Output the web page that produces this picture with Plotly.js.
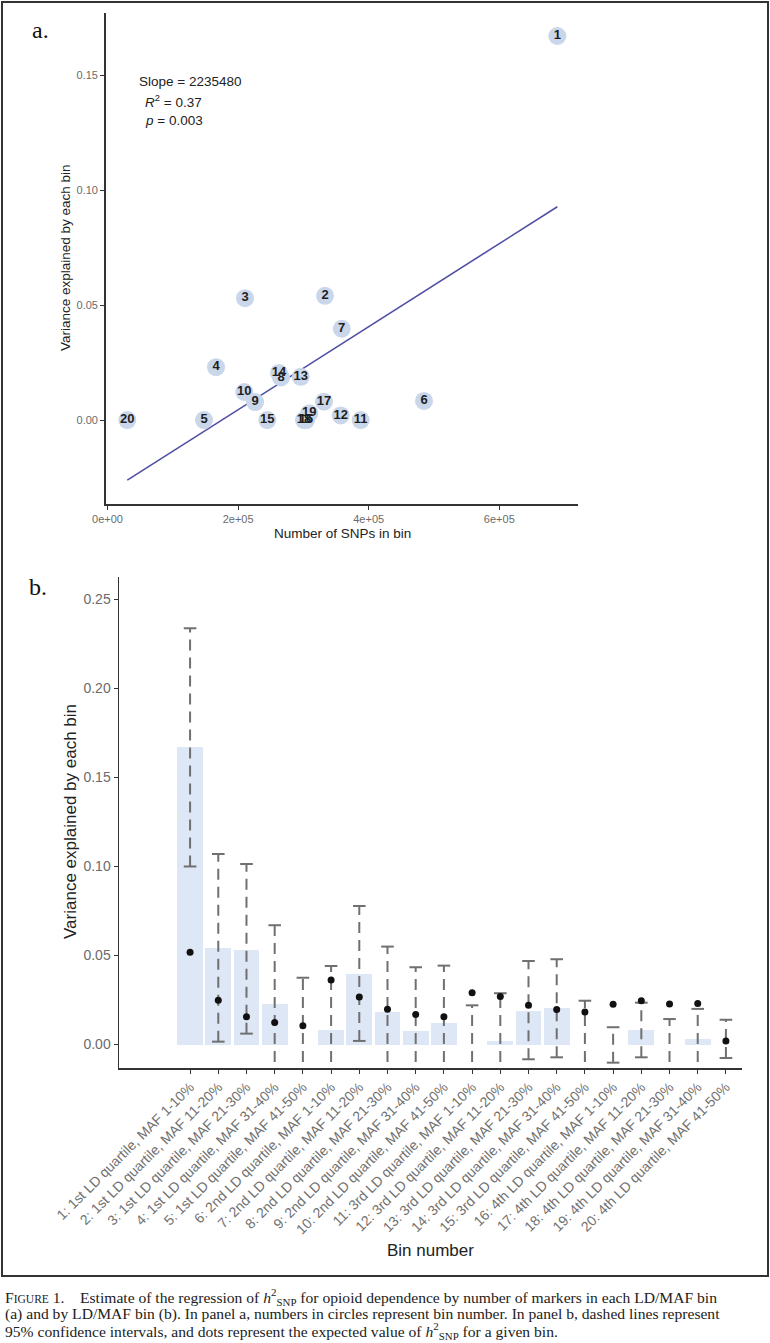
<!DOCTYPE html>
<html>
<head>
<meta charset="utf-8">
<script src="https://cdn.plot.ly/plotly-3.0.1.min.js"></script>
<style>
  html, body { margin: 0; padding: 0; background: #fff; }
  #fig { width: 770px; height: 1343px; }
</style>
</head>
<body>
<div id="fig"></div>
<script>
// bins 1..20 (LD quartile x MAF class)
const binNumbers = [1, 2, 3, 4, 5, 6, 7, 8, 9, 10, 11, 12, 13, 14, 15, 16, 17, 18, 19, 20];
const binLabels = [
  "1: 1st LD quartile, MAF 1-10%", "2: 1st LD quartile, MAF 11-20%", "3: 1st LD quartile, MAF 21-30%",
  "4: 1st LD quartile, MAF 31-40%", "5: 1st LD quartile, MAF 41-50%", "6: 2nd LD quartile, MAF 1-10%",
  "7: 2nd LD quartile, MAF 11-20%", "8: 2nd LD quartile, MAF 21-30%", "9: 2nd LD quartile, MAF 31-40%",
  "10: 2nd LD quartile, MAF 41-50%", "11: 3rd LD quartile, MAF 1-10%", "12: 3rd LD quartile, MAF 11-20%",
  "13: 3rd LD quartile, MAF 21-30%", "14: 3rd LD quartile, MAF 31-40%", "15: 3rd LD quartile, MAF 41-50%",
  "16: 4th LD quartile, MAF 1-10%", "17: 4th LD quartile, MAF 11-20%", "18: 4th LD quartile, MAF 21-30%",
  "19: 4th LD quartile, MAF 31-40%", "20: 4th LD quartile, MAF 41-50%"
];

// panel a: SNP count per bin vs variance explained
const snpsInBin = [688800, 333100, 210600, 166200, 147800, 484700, 358700, 265700, 226000, 209500,
                   387700, 357100, 295900, 262600, 244700, 304000, 331500, 300900, 309000, 30300];
const varianceExplained = [0.167, 0.054, 0.053, 0.023, 0.000, 0.0083, 0.0397, 0.0185, 0.0078, 0.0122,
                           0.000, 0.002, 0.0188, 0.0205, 0.000, 0.000, 0.008, 0.000, 0.003, 0.000];

// panel b: expected h2 and 95% CI
const expectedH2 = [0.0518, 0.0248, 0.0156, 0.0123, 0.0106, 0.0362, 0.0267, 0.0198, 0.0168, 0.0156,
                    0.0291, 0.0269, 0.0220, 0.0196, 0.0183, 0.0226, 0.0246, 0.0228, 0.0231, 0.0020];
const ciLower = [0.1000, 0.0016, 0.0061, -0.030, -0.030, -0.030, 0.0020, -0.030, -0.030, -0.030,
                 -0.030, -0.030, -0.0083, -0.0072, -0.030, -0.0102, -0.0072, -0.030, -0.030, -0.0076];
const ciUpper = [0.2338, 0.1070, 0.1014, 0.0670, 0.0375, 0.0441, 0.0778, 0.0550, 0.0434, 0.0443,
                 0.0220, 0.0288, 0.0469, 0.0479, 0.0246, 0.0097, 0.0235, 0.0143, 0.0200, 0.0139];

const W = 770, H = 1343;
const px = x => x / W;
const py = y => 1 - y / H;
const sans = "Liberation Sans, Arial, sans-serif";
const serif = "Liberation Serif, Times New Roman, serif";

// least squares fit for panel a
function fitLine(xs, ys) {
  const n = xs.length;
  const mx = xs.reduce((a, b) => a + b, 0) / n;
  const my = ys.reduce((a, b) => a + b, 0) / n;
  let sxy = 0, sxx = 0;
  xs.forEach((x, i) => { sxy += (x - mx) * (ys[i] - my); sxx += (x - mx) * (x - mx); });
  const slope = sxy / sxx;
  return { slope, intercept: my - slope * mx };
}
const fit = fitLine(snpsInBin, varianceExplained);
const xMin = Math.min(...snpsInBin), xMax = Math.max(...snpsInBin);

const traces = [];

traces.push({
  type: "scatter", mode: "lines", xaxis: "x", yaxis: "y",
  x: [xMin, xMax],
  y: [fit.intercept + fit.slope * xMin, fit.intercept + fit.slope * xMax],
  line: { color: "#4f4fa3", width: 1.6 },
  hoverinfo: "skip"
});

traces.push({
  type: "scatter", mode: "markers+text", xaxis: "x", yaxis: "y",
  x: snpsInBin, y: varianceExplained,
  text: binNumbers.map(String),
  textposition: "middle center",
  textfont: { family: sans, size: 13, color: "#1e1e1e", weight: "bold" },
  marker: { size: 18, color: "#cad6ea", line: { width: 0 } },
  cliponaxis: false
});

// panel b bars
traces.push({
  type: "bar", xaxis: "x2", yaxis: "y2",
  x: binNumbers, y: varianceExplained,
  width: 0.92,
  marker: { color: "#dde7f5", line: { width: 0 } }
});

// CI as dashed segments
const ciX = [], ciY = [];
binNumbers.forEach((b, i) => { ciX.push(b, b, null); ciY.push(ciLower[i], ciUpper[i], null); });
traces.push({
  type: "scatter", mode: "lines", xaxis: "x2", yaxis: "y2",
  x: ciX, y: ciY, connectgaps: false,
  line: { color: "#707070", width: 2, dash: "11px,7px" }
});
traces.push({
  type: "scatter", mode: "markers", xaxis: "x2", yaxis: "y2",
  x: binNumbers.concat(binNumbers), y: ciLower.concat(ciUpper),
  marker: { symbol: "line-ew", size: 9, line: { color: "#707070", width: 2 } }
});

// expected value dots
traces.push({
  type: "scatter", mode: "markers", xaxis: "x2", yaxis: "y2",
  x: binNumbers, y: expectedH2,
  marker: { size: 7, color: "#111" }
});

const axisCommon = {
  showline: true, linecolor: "#333", linewidth: 1.5, mirror: false,
  ticks: "outside", ticklen: 4, tickcolor: "#333", tickwidth: 1,
  showgrid: false, zeroline: false, fixedrange: true
};

const layout = {
  width: W, height: H,
  margin: { l: 0, r: 0, t: 0, b: 0 },
  paper_bgcolor: "#fff", plot_bgcolor: "#fff",
  showlegend: false,
  bargap: 0,
  xaxis: Object.assign({}, axisCommon, {
    domain: [px(105.7), px(578)], anchor: "y",
    range: [-2760, 720500],
    tickmode: "array", tickvals: [0, 200000, 400000, 600000],
    ticktext: ["0e+00", "2e+05", "4e+05", "6e+05"],
    tickfont: { family: sans, size: 11, color: "#6b6b6b" }
  }),
  yaxis: Object.assign({}, axisCommon, {
    domain: [py(504), py(13)], anchor: "x",
    range: [-0.0365, 0.177],
    tickmode: "array", tickvals: [0, 0.05, 0.10, 0.15],
    ticktext: ["0.00", "0.05", "0.10", "0.15"],
    tickfont: { family: sans, size: 11, color: "#6b6b6b" }
  }),
  xaxis2: Object.assign({}, axisCommon, {
    domain: [px(119), px(742)], anchor: "y2",
    range: [-1.52, 20.57],
    tickmode: "array", tickvals: binNumbers, ticktext: binLabels,
    tickangle: -45,
    tickfont: { family: sans, size: 14, color: "#707070" }
  }),
  yaxis2: Object.assign({}, axisCommon, {
    domain: [py(1068), py(577)], anchor: "x2",
    range: [-0.0132, 0.2626],
    tickmode: "array", tickvals: [0, 0.05, 0.10, 0.15, 0.20, 0.25],
    ticktext: ["0.00", "0.05", "0.10", "0.15", "0.20", "0.25"],
    tickfont: { family: sans, size: 14, color: "#6b6b6b" }
  }),
  shapes: [{
    type: "rect", xref: "paper", yref: "paper",
    x0: px(2), x1: px(768), y0: py(1276), y1: py(2),
    line: { color: "#333", width: 2 }
  }],
  annotations: []
};

const ann = (x, y, text, opts) => layout.annotations.push(Object.assign({
  xref: "paper", yref: "paper", x: px(x), y: py(y), text, showarrow: false,
  xanchor: "center", yanchor: "middle"
}, opts));

// panel labels
ann(40, 30, "a.", { font: { family: serif, size: 24, color: "#111" } });
ann(38, 587, "b.", { font: { family: serif, size: 24, color: "#111" } });

// panel a text
ann(137, 82, "Slope = 2235480", { xanchor: "left", font: { family: sans, size: 13.5, color: "#222" } });
ann(143, 101, "<i>R</i><sup>2</sup> = 0.37", { xanchor: "left", font: { family: sans, size: 13.5, color: "#222" } });
ann(143, 120, "<i>p</i> = 0.003", { xanchor: "left", font: { family: sans, size: 13.5, color: "#222" } });
ann(342, 533, "Number of SNPs in bin", { font: { family: sans, size: 13.5, color: "#222" } });
ann(66, 258, "Variance explained by each bin", { textangle: -90, font: { family: sans, size: 13.5, color: "#222" } });

// panel b titles
ann(430, 1250, "Bin number", { font: { family: sans, size: 17, color: "#222" } });
ann(70, 822, "Variance explained by each bin", { textangle: -90, font: { family: sans, size: 17, color: "#222" } });

// caption
const cap = { xanchor: "left", font: { family: serif, size: 15.6, color: "#222" } };
const h2snp = "<i>h</i><sup>2</sup><sub>SNP</sub>";
ann(3, 1297, "F<span style='font-size:11.5px'>IGURE</span> 1.\u00a0\u00a0\u00a0\u00a0Estimate of the regression of " + h2snp +
  " for opioid dependence by number of markers in each LD/MAF bin", cap);
ann(3, 1314, "(a) and by LD/MAF bin (b). In panel a, numbers in circles represent bin number. In panel b, dashed lines represent", cap);
ann(3, 1331, "95% confidence intervals, and dots represent the expected value of " + h2snp + " for a given bin.", cap);

Plotly.newPlot("fig", traces, layout, { displayModeBar: false, staticPlot: true });
</script>
</body>
</html>
